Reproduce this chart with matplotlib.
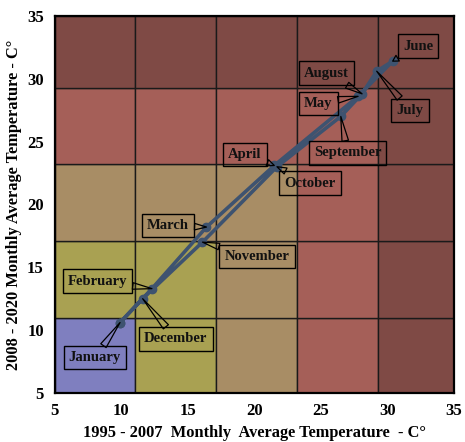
import matplotlib
matplotlib.use("Agg")
import matplotlib.pyplot as plt
from matplotlib.patches import Rectangle

# mean monthly temperatures, 1995-2007 (x) vs 2008-2020 (y)
months = ["January", "February", "March", "April", "May", "June",
          "July", "August", "September", "October", "November", "December"]
t_old = [9.9, 12.3, 16.4, 21.5, 27.8, 30.4, 29.2, 28.1, 26.5, 21.7, 16.1, 11.6]
t_new = [10.6, 13.3, 18.2, 23.1, 28.6, 31.4, 30.6, 28.8, 27.0, 23.0, 17.0, 12.5]

# where each callout box sits
lab_x = [8.0, 8.2, 13.5, 19.3, 24.8, 32.3, 31.7, 25.4, 27.0, 24.2, 20.2, 14.1]
lab_y = [7.8, 13.9, 18.3, 24.0, 28.05, 32.6, 27.5, 30.45, 24.1, 21.7, 15.85, 9.3]

# temperature bands for the background
bands = [5, 11, 17.1, 23.2, 29.3, 35]
band_colors = ["#7f7fbf", "#a9a152", "#a88d65", "#a55f58", "#7f4a45"]

plt.rcParams["font.family"] = "Liberation Serif"
plt.rcParams["font.weight"] = "bold"

fig = plt.figure(figsize=(4.65, 4.42), dpi=100)
ax = fig.add_axes([0.118, 0.111, 0.858, 0.853])

for i in range(5):
    for j in range(5):
        c = band_colors[max(i, j)]
        r = Rectangle((bands[i], bands[j]), bands[i + 1] - bands[i],
                      bands[j + 1] - bands[j], facecolor=c,
                      edgecolor="#1a1a1a", linewidth=1.0, zorder=0)
        ax.add_patch(r)

xs = t_old + [t_old[0]]
ys = t_new + [t_new[0]]
ax.plot(xs, ys, color="#3e5370", linewidth=2.6, marker="o",
        markersize=6, zorder=3)

for m, x, y, lx, ly in zip(months, t_old, t_new, lab_x, lab_y):
    ax.annotate(m, xy=(x, y), xytext=(lx, ly), ha="center", va="center",
                fontsize=10.5, fontweight="bold", color="#111111",
                bbox=dict(boxstyle="square,pad=0.35", facecolor="none",
                          edgecolor="black", linewidth=1.0),
                arrowprops=dict(arrowstyle="wedge,tail_width=0.45",
                                facecolor="none", edgecolor="black",
                                linewidth=0.9, shrinkA=0, shrinkB=0),
                zorder=4)

ax.set_xlim(5, 35)
ax.set_ylim(5, 35)
ax.set_xticks(range(5, 36, 5))
ax.set_yticks(range(5, 36, 5))
ax.tick_params(length=0, labelsize=12)
ax.tick_params(axis="y", pad=8)
ax.tick_params(axis="x", pad=7)
for s in ax.spines.values():
    s.set_linewidth(1.6)

ax.set_xlabel("1995 - 2007  Monthly  Average Temperature  - C\u00b0",
              fontsize=11.8, fontweight="bold")
ax.set_ylabel("2008 - 2020 Monthly Average Temperature - C\u00b0",
              fontsize=11.8, fontweight="bold")
ax.xaxis.set_label_coords(0.5, -0.085)
ax.yaxis.set_label_coords(-0.083, 0.5)

plt.savefig("out.png", dpi=100)
